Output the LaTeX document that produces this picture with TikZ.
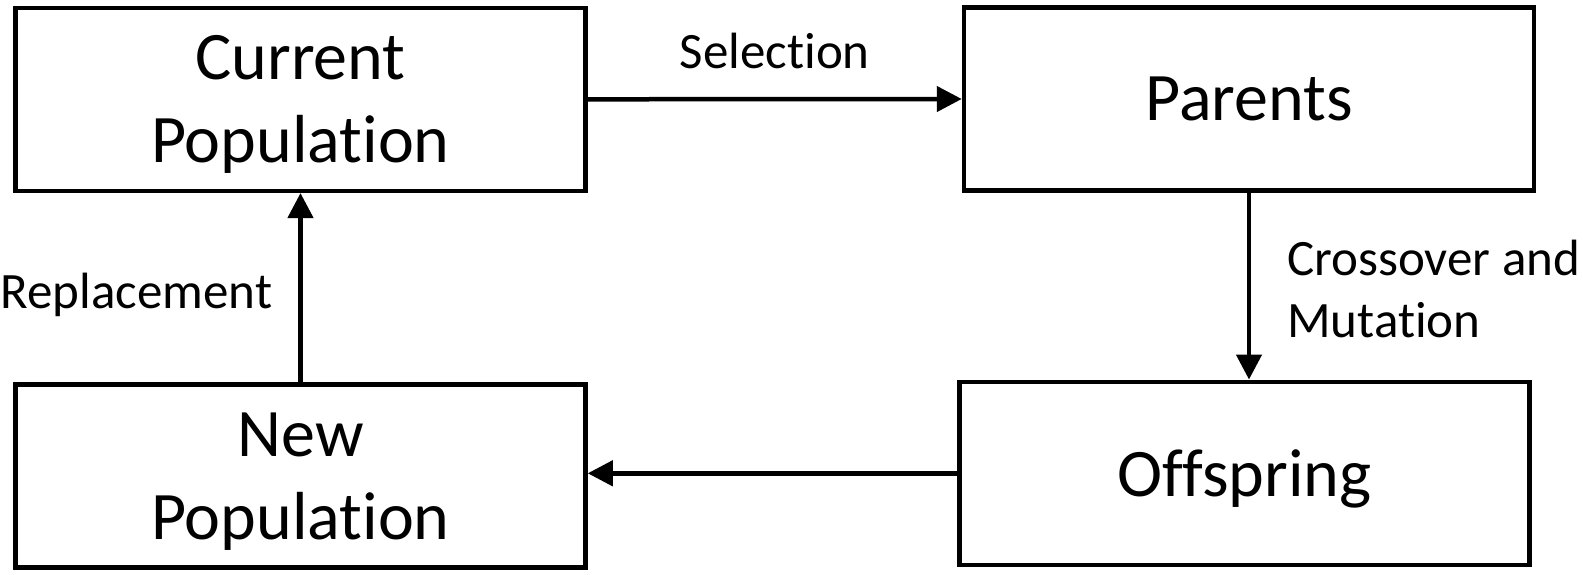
\documentclass[tikz,border=0pt]{standalone}
\usepackage{fontspec}
\setmainfont{Carlito}[Ligatures=NoCommon]
\usetikzlibrary{arrows.meta,positioning}

\tikzset{
  stage/.style={draw, line width=4.5pt, minimum width=570pt, minimum height=183pt,
    inner sep=0pt, align=center, text depth=0pt, font=\fontsize{68}{83}\selectfont},
  flow/.style={line width=4.5pt, -{Triangle[length=25pt,width=25pt]}},
  steplabel/.style={inner sep=0pt, font=\fontsize{51}{62}\selectfont}
}

\begin{document}
\begin{tikzpicture}[x=1pt,y=-1pt]

        % Frame
        \useasboundingbox (0,0) rectangle (1583,575);

        % Stages of the cycle
        \node[stage] (cur) at (300.5,99.3) {Current\\Population};
        \node[stage] (par) at (1249,99) {Parents};
        \node[stage] (off) at (1244.5,473.3) {Offspring};
        \node[stage] (new) at (300.5,476) {New\\Population};

        % Arrows with labels
        \draw[flow] (cur.east) -- (par.west)
            node[midway, above=28pt, steplabel] {Selection};
        \draw[flow] (par.south) -- (par.south |- off.north)
            node[midway, right=36pt, steplabel, align=left, yshift=-2.5pt] {Crossover and\\Mutation};
        \draw[flow] (off.west) -- (off.west -| new.east);
        \draw[flow] (new.north) -- (cur.south)
            node[midway, left=26pt, steplabel, yshift=-7pt] {Replacement};

\end{tikzpicture}
\end{document}
